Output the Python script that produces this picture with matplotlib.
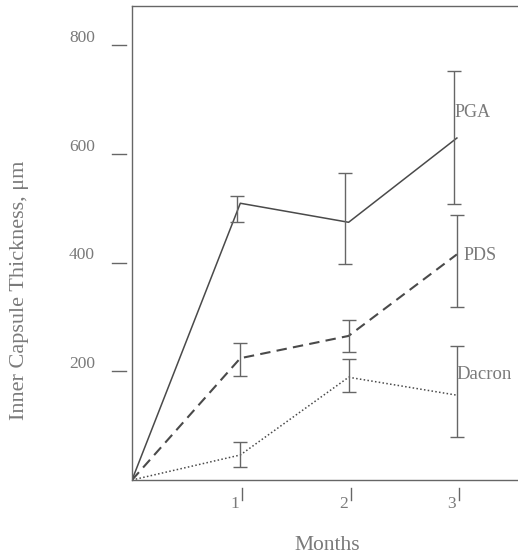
import matplotlib
matplotlib.use("Agg")
import matplotlib.pyplot as plt
import matplotlib.transforms as mtransforms

months = [0, 1, 2, 3]

pga = [0, 509, 474, 629]
pga_lo = [0, 35, 77, 122]
pga_hi = [0, 13, 90, 123]

pds = [0, 224, 265, 415]
pds_lo = [0, 33, 30, 97]
pds_hi = [0, 28, 29, 72]

dacron = [0, 46, 189, 156]
dacron_lo = [0, 22, 27, 77]
dacron_hi = [0, 24, 33, 90]

yticks = [200, 400, 600, 800]
xticks = [1, 2, 3]

plt.rcParams["font.family"] = ["Liberation Serif", "DejaVu Serif"]
txt = "#7a7a7a"
ink = "#4a4a4a"

fig = plt.figure(figsize=(5.18, 5.56), dpi=100)
ax = fig.add_axes([132 / 518, 76 / 556, 390 / 518, 474 / 556])
ax.set_xlim(0, 390 / 108.3)
ax.set_ylim(0, 474 / 0.5437)

ax.plot(months, pga, color=ink, lw=1.1, ls="-")
ax.plot(months, pds, color=ink, lw=1.5, ls=(0, (5, 3)))
ax.plot(months, dacron, color=ink, lw=1.1, ls=(0, (1, 1.5)))

for vals, lo, hi, dx in [(pga, pga_lo, pga_hi, -0.03),
                         (pds, pds_lo, pds_hi, 0.0),
                         (dacron, dacron_lo, dacron_hi, 0.0)]:
    ax.errorbar([m + dx for m in months[1:]], vals[1:],
                yerr=[lo[1:], hi[1:]], fmt="none", ecolor="#666666",
                elinewidth=1.0, capsize=5, capthick=1.0)

ax.text(2.98, 676, "PGA", color=txt, fontsize=13, va="center", ha="left")
ax.text(3.06, 413, "PDS", color=txt, fontsize=13, va="center", ha="left")
ax.text(3.0, 194, "Dacron", color=txt, fontsize=13.5, va="center", ha="left")

# spines: left, bottom, top visible
for s in ["left", "bottom", "top"]:
    ax.spines[s].set_color("#666666")
    ax.spines[s].set_linewidth(1.0)
ax.spines["right"].set_visible(False)

ax.set_xticks([])
ax.set_yticks([])

# detached tick marks and labels
tr_y = mtransforms.blended_transform_factory(ax.transAxes, ax.transData)
for t in yticks:
    ax.plot([-0.052, -0.015], [t, t], color="#666666", lw=1.0,
            transform=tr_y, clip_on=False)
    ax.text(-0.095, t + 13, str(t), color=txt, fontsize=12.5,
            ha="right", va="center", transform=tr_y)

tr_x = mtransforms.blended_transform_factory(ax.transData, ax.transAxes)
for t in xticks:
    ax.plot([t + 0.02, t + 0.02], [-0.016, -0.042], color="#666666", lw=1.0,
            transform=tr_x, clip_on=False)
    ax.text(t - 0.05, -0.05, str(t), color=txt, fontsize=12.5,
            ha="center", va="center", transform=tr_x)

fig.text(20 / 518, 1 - 290 / 556, "Inner Capsule Thickness, μm", color=txt,
         fontsize=16, rotation=90, ha="center", va="center")
fig.text(327 / 518, 1 - 545 / 556, "Months", color=txt, fontsize=15.5,
         ha="center", va="center")

fig.savefig("out.png", dpi=100)
